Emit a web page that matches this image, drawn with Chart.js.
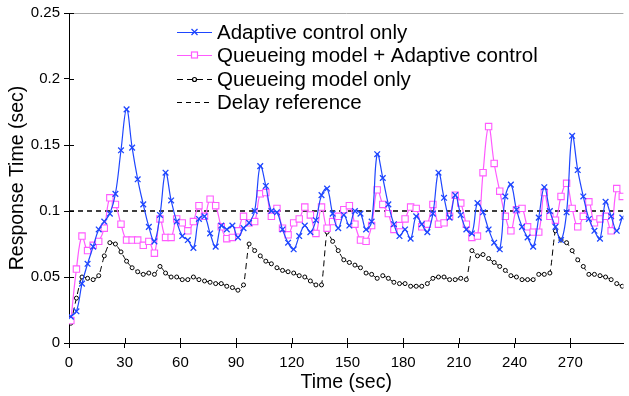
<!doctype html>
<html lang="en">

<head>
    <meta charset="utf-8">
    <title>Response Time</title>
    <style>
        * {
            margin: 0;
            padding: 0;
        }

        body {
            background: white;
        }

        .chartBox {
            width: 629px;
            height: 396px;
        }
    </style>
</head>

<body>
    <div class="chartBox">
        <canvas id="myChart"></canvas>
    </div>
    <script src="https://cdn.jsdelivr.net/npm/chart.js"></script>
    <script>
        // sample times (sec)
        const sampleTimes = [1, 4, 7, 10, 13, 16, 19, 22, 25, 28, 31, 34, 37, 40, 43, 46, 49, 52, 55, 58,
            61, 64, 67, 70, 73, 76, 79, 82, 85, 88, 91, 94, 97, 100, 103, 106, 109, 112, 115, 118,
            121, 124, 127, 130, 133, 136, 139, 142, 145, 148, 151, 154, 157, 160, 163, 166, 169, 172, 175, 178,
            181, 184, 187, 190, 193, 196, 199, 202, 205, 208, 211, 214, 217, 220, 223, 226, 229, 232, 235, 238,
            241, 244, 247, 250, 253, 256, 259, 262, 265, 268, 271, 274, 277, 280, 283, 286, 289, 292, 295, 298]

        const adaptiveOnly = [0.020, 0.024, 0.045, 0.060, 0.073, 0.086, 0.092, 0.098, 0.113, 0.146,
            0.177, 0.148, 0.124, 0.105, 0.088, 0.077, 0.097, 0.129, 0.108, 0.092,
            0.081, 0.078, 0.072, 0.094, 0.096, 0.083, 0.073, 0.089, 0.086, 0.089,
            0.080, 0.087, 0.091, 0.100, 0.134, 0.119, 0.100, 0.099, 0.086, 0.076,
            0.071, 0.081, 0.089, 0.084, 0.093, 0.112, 0.117, 0.098, 0.087, 0.097,
            0.089, 0.100, 0.098, 0.086, 0.092, 0.143, 0.125, 0.105, 0.090, 0.081,
            0.086, 0.079, 0.096, 0.090, 0.084, 0.098, 0.129, 0.110, 0.095, 0.112,
            0.097, 0.086, 0.083, 0.106, 0.099, 0.086, 0.076, 0.071, 0.111, 0.120,
            0.101, 0.088, 0.080, 0.073, 0.095, 0.118, 0.100, 0.088, 0.078, 0.099,
            0.157, 0.131, 0.111, 0.094, 0.085, 0.079, 0.107, 0.096, 0.085, 0.095]

        const queueAdaptive = [0.017, 0.056, 0.081, 0.070, 0.074, 0.077, 0.087, 0.110, 0.105, 0.090,
            0.078, 0.078, 0.078, 0.074, 0.077, 0.068, 0.094, 0.080, 0.080, 0.094,
            0.091, 0.085, 0.092, 0.104, 0.096, 0.109, 0.104, 0.088, 0.079, 0.080,
            0.085, 0.096, 0.091, 0.092, 0.113, 0.114, 0.096, 0.102, 0.087, 0.082,
            0.091, 0.094, 0.103, 0.097, 0.083, 0.103, 0.087, 0.092, 0.096, 0.101,
            0.104, 0.090, 0.078, 0.077, 0.089, 0.116, 0.105, 0.098, 0.086, 0.089,
            0.094, 0.103, 0.102, 0.088, 0.090, 0.105, 0.090, 0.091, 0.096, 0.112,
            0.106, 0.090, 0.080, 0.081, 0.129, 0.164, 0.136, 0.115, 0.096, 0.085,
            0.101, 0.102, 0.088, 0.084, 0.084, 0.114, 0.096, 0.093, 0.111, 0.121,
            0.102, 0.088, 0.096, 0.107, 0.091, 0.094, 0.096, 0.085, 0.117, 0.111]

        const queueOnly = [0.015, 0.034, 0.050, 0.049, 0.048, 0.051, 0.066, 0.076, 0.075, 0.069,
            0.062, 0.057, 0.054, 0.052, 0.053, 0.052, 0.058, 0.053, 0.050, 0.050,
            0.048, 0.048, 0.050, 0.048, 0.047, 0.046, 0.045, 0.045, 0.043, 0.042,
            0.040, 0.044, 0.075, 0.070, 0.066, 0.062, 0.060, 0.057, 0.055, 0.054,
            0.053, 0.051, 0.050, 0.047, 0.044, 0.044, 0.084, 0.077, 0.070, 0.063,
            0.061, 0.059, 0.057, 0.053, 0.052, 0.049, 0.051, 0.049, 0.046, 0.045,
            0.045, 0.043, 0.043, 0.043, 0.045, 0.049, 0.050, 0.050, 0.048, 0.048,
            0.049, 0.048, 0.070, 0.066, 0.067, 0.064, 0.061, 0.058, 0.055, 0.051,
            0.050, 0.048, 0.048, 0.048, 0.052, 0.052, 0.053, 0.085, 0.078, 0.076,
            0.070, 0.063, 0.058, 0.052, 0.052, 0.051, 0.050, 0.048, 0.045, 0.043]

        const delayRefTimes = [0, 298.6]
        const delayRef = [0.1, 0.1]

        const xTicks = [0, 30, 60, 90, 120, 150, 180, 210, 240, 270]
        const yTicks = [0, 0.05, 0.1, 0.15, 0.2, 0.25]

        const seriesNames = ['Adaptive control only', 'Queueing model + Adaptive control', 'Queueing model only', 'Delay reference']

        const BLUE = 'rgb(30, 70, 255)'
        const PINK = 'rgb(255, 90, 255)'
        const FONT = "'Liberation Sans', Arial, sans-serif"
        const NARROW = "'Liberation Sans Narrow', 'Liberation Sans', Arial, sans-serif"

        const pts = (xs, ys) => ys.map((v, i) => ({ x: xs[i], y: v }))

        const data = {
            datasets: [{
                label: seriesNames[0],
                data: pts(sampleTimes, adaptiveOnly),
                borderColor: BLUE,
                backgroundColor: BLUE,
                borderWidth: 1.2,
                pointStyle: 'crossRot',
                pointRadius: 4,
                pointBorderWidth: 1.3,
                tension: 0.4
            }, {
                label: seriesNames[1],
                data: pts(sampleTimes, queueAdaptive),
                borderColor: PINK,
                backgroundColor: 'white',
                borderWidth: 1.2,
                pointStyle: 'rect',
                pointRadius: 4.5,
                pointBorderWidth: 1.1,
                tension: 0.4
            }, {
                label: seriesNames[2],
                data: pts(sampleTimes, queueOnly),
                borderColor: '#000',
                backgroundColor: 'white',
                borderWidth: 1,
                borderDash: [6, 4],
                pointStyle: 'circle',
                pointRadius: 2,
                pointBorderWidth: 1,
                tension: 0.2
            }, {
                label: seriesNames[3],
                data: pts(delayRefTimes, delayRef),
                borderColor: '#000',
                borderWidth: 1.3,
                borderDash: [5, 4],
                pointRadius: 0,
                tension: 0
            }]
        }

        // ticks that cross the axis lines + legend drawn inside the plot
        const extras = {
            id: 'extras',
            afterDraw(chart) {
                const { ctx, chartArea: { left, bottom }, scales: { x, y } } = chart
                ctx.save()
                ctx.strokeStyle = '#000'
                ctx.lineWidth = 1
                ctx.setLineDash([])
                xTicks.forEach(t => {
                    const px = Math.round(x.getPixelForValue(t)) + 0.5
                    ctx.beginPath()
                    ctx.moveTo(px, bottom)
                    ctx.lineTo(px, bottom - 5)
                    ctx.stroke()
                })
                yTicks.forEach(t => {
                    const py = Math.round(y.getPixelForValue(t)) + 0.5
                    ctx.beginPath()
                    ctx.moveTo(left, py)
                    ctx.lineTo(left + 5, py)
                    ctx.stroke()
                })

                // legend
                const lx1 = 177, lx2 = 212, tx = 217
                const rows = [32, 55, 79, 102]
                ctx.font = '20.5px ' + FONT
                ctx.textBaseline = 'middle'
                ctx.fillStyle = '#000'
                rows.forEach((ry, i) => {
                    const ds = chart.data.datasets[i]
                    ctx.save()
                    ctx.strokeStyle = ds.borderColor
                    ctx.lineWidth = 1.2
                    ctx.setLineDash(ds.borderDash || [])
                    ctx.beginPath()
                    ctx.moveTo(lx1, ry + 0.5)
                    ctx.lineTo(lx2, ry + 0.5)
                    ctx.stroke()
                    ctx.setLineDash([])
                    const mx = (lx1 + lx2) / 2
                    if (i === 0) {
                        ctx.lineWidth = 1.3
                        ctx.beginPath()
                        ctx.moveTo(mx - 3, ry - 3); ctx.lineTo(mx + 3, ry + 3)
                        ctx.moveTo(mx + 3, ry - 3); ctx.lineTo(mx - 3, ry + 3)
                        ctx.stroke()
                    } else if (i === 1) {
                        ctx.fillStyle = 'white'
                        ctx.fillRect(mx - 3, ry - 3, 6, 6)
                        ctx.strokeRect(mx - 3, ry - 3, 6, 6)
                    } else if (i === 2) {
                        ctx.fillStyle = 'white'
                        ctx.beginPath()
                        ctx.arc(mx, ry + 0.5, 2, 0, Math.PI * 2)
                        ctx.fill()
                        ctx.stroke()
                    }
                    ctx.restore()
                    ctx.fillText(ds.label, tx, ry + 1)
                })
                ctx.restore()
            }
        }

        const config = {
            type: 'line',
            data,
            options: {
                responsive: true,
                maintainAspectRatio: false,
                animation: false,
                layout: {
                    padding: { top: 9, right: 0, left: 0, bottom: 0 }
                },
                plugins: {
                    legend: { display: false },
                    tooltip: { enabled: false }
                },
                scales: {
                    x: {
                        type: 'linear',
                        min: 0,
                        max: 298.6,
                        afterBuildTicks: (scale) => {
                            scale.ticks = xTicks.map(v => ({ value: v }))
                        },
                        afterFit: (scale) => { scale.height = 53 },
                        border: { color: '#000', width: 1 },
                        grid: { display: true, drawOnChartArea: false, tickLength: 5, tickColor: '#000' },
                        ticks: {
                            color: '#000',
                            font: { family: NARROW, size: 15 },
                            padding: 6,
                            maxRotation: 0
                        },
                        title: {
                            display: true,
                            text: 'Time (sec)',
                            color: '#000',
                            font: { family: FONT, size: 19.5 },
                            padding: { top: 0, bottom: 2 }
                        }
                    },
                    y: {
                        min: 0,
                        max: 0.25,
                        afterBuildTicks: (scale) => {
                            scale.ticks = yTicks.map(v => ({ value: v }))
                        },
                        afterFit: (scale) => { scale.width = 69 },
                        border: { color: '#000', width: 1 },
                        grid: {
                            drawOnChartArea: true,
                            tickLength: 5,
                            tickColor: '#000',
                            color: (c) => (c.tick && Math.abs(c.tick.value - 0.25) < 1e-9) ? '#aaa' : 'rgba(0,0,0,0)'
                        },
                        ticks: {
                            color: '#000',
                            font: { family: NARROW, size: 15 },
                            padding: 4,
                            callback: (v) => String(+v.toFixed(2))
                        },
                        title: {
                            display: true,
                            text: 'Response Time (sec)',
                            color: '#000',
                            font: { family: FONT, size: 19.5 },
                            padding: { top: 6, bottom: 0 }
                        }
                    }
                }
            },
            plugins: [extras]
        }

        const myChart = new Chart(document.getElementById('myChart'), config)
    </script>
</body>

</html>
